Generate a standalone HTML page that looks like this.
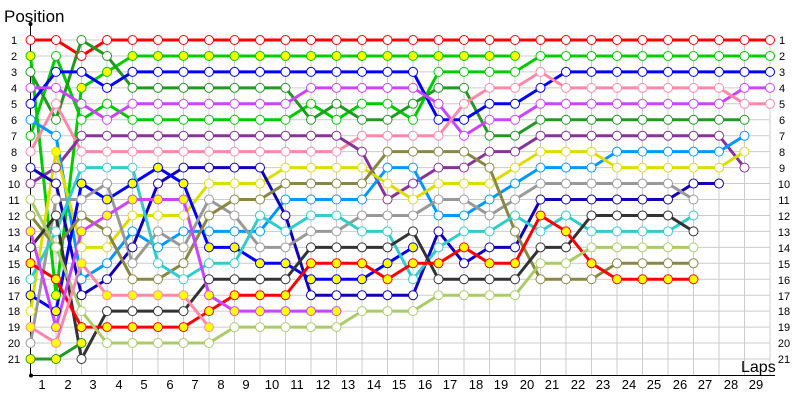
<!DOCTYPE html>
<html><head><meta charset="utf-8"><style>
html,body{margin:0;padding:0;background:#fff;}
svg{display:block;font-family:"Liberation Sans",sans-serif;}
</style></head><body>
<svg id="c" width="800" height="400" viewBox="0 0 800 400">
<g id="grid" stroke="#cccccc" stroke-width="1"></g>
<line x1="30.5" y1="22" x2="30.5" y2="375" stroke="#000" stroke-width="1"/>
<circle cx="30.5" cy="24" r="2" fill="#000"/>
<line x1="30" y1="375.5" x2="775" y2="375.5" stroke="#000" stroke-width="1"/>
<circle cx="31" cy="375.5" r="2" fill="#000"/>
<text x="4" y="22" font-size="17" fill="#000">Position</text>
<text x="741" y="372" font-size="16" fill="#000">Laps</text>
<g font-size="11" fill="#000" text-anchor="middle">
<text x="14" y="44">1</text><text x="14" y="60">2</text><text x="14" y="76">3</text><text x="14" y="92">4</text><text x="14" y="108">5</text><text x="14" y="124">6</text><text x="14" y="140">7</text><text x="14" y="156">8</text><text x="14" y="172">9</text><text x="14" y="188">10</text><text x="14" y="204">11</text><text x="14" y="220">12</text><text x="14" y="236">13</text><text x="14" y="252">14</text><text x="14" y="268">15</text><text x="14" y="284">16</text><text x="14" y="300">17</text><text x="14" y="315">18</text><text x="14" y="331">19</text><text x="14" y="347">20</text><text x="14" y="363">21</text>
</g>
<g font-size="11" fill="#000" text-anchor="middle">
<text x="782" y="44">1</text><text x="782" y="60">2</text><text x="782" y="76">3</text><text x="782" y="92">4</text><text x="782" y="108">5</text><text x="782" y="124">6</text><text x="782" y="140">7</text><text x="782" y="156">8</text><text x="782" y="172">9</text><text x="784" y="188">10</text><text x="784" y="204">11</text><text x="784" y="220">12</text><text x="784" y="236">13</text><text x="784" y="252">14</text><text x="784" y="268">15</text><text x="784" y="284">16</text><text x="784" y="300">17</text><text x="784" y="315">18</text><text x="784" y="331">19</text><text x="784" y="347">20</text><text x="784" y="363">21</text>
</g>
<g font-size="13" fill="#000" text-anchor="middle">
<text x="42" y="389">1</text><text x="68" y="389">2</text><text x="93" y="389">3</text><text x="119" y="389">4</text><text x="144" y="389">5</text><text x="170" y="389">6</text><text x="195" y="389">7</text><text x="221" y="389">8</text><text x="246" y="389">9</text><text x="272" y="389">10</text><text x="297" y="389">11</text><text x="323" y="389">12</text><text x="348" y="389">13</text><text x="374" y="389">14</text><text x="399" y="389">15</text><text x="425" y="389">16</text><text x="450" y="389">17</text><text x="476" y="389">18</text><text x="501" y="389">19</text><text x="527" y="389">20</text><text x="552" y="389">21</text><text x="578" y="389">22</text><text x="603" y="389">23</text><text x="629" y="389">24</text><text x="654" y="389">25</text><text x="680" y="389">26</text><text x="705" y="389">27</text><text x="731" y="389">28</text><text x="756" y="389">29</text>
</g>
<g id="series"></g>
</svg>
<script>
var NS="http://www.w3.org/2000/svg";
function X(k){return 30.5+25.5*k;}
function Y(p){return 40+(p-1)*15.95;}
var g=document.getElementById('grid');
for(var k=0;k<=29;k++){var l=document.createElementNS(NS,'line');l.setAttribute('x1',X(k));l.setAttribute('x2',X(k));l.setAttribute('y1',Y(1)-2);l.setAttribute('y2',375);g.appendChild(l);}
for(var p=1;p<=21;p++){var l=document.createElementNS(NS,'line');l.setAttribute('x1',30);l.setAttribute('x2',770);l.setAttribute('y1',Y(p));l.setAttribute('y2',Y(p));g.appendChild(l);}
function rep(v,n){var a=[];for(var i=0;i<n;i++)a.push(v);return a;}
var S=[
["#ff0000",[1,1,2,1].concat(rep(1,26)),0],
["#00cc00",[2,17,4,3].concat(rep(2,16)),1],
["#00cc00",[7,2,6,5,6,6,6,6,6,6,6,5,6,5,5,6,3,3,3,3].concat(rep(2,10)),0],
["#229922",[3,6,1,2,4,4,4,4,4,4,4,6,5,6,6,5,4,4,7,7].concat(rep(6,9)),0],
["#0000ff",[5,3,3,4].concat(rep(3,12)).concat([6,6,5,5,4]).concat(rep(3,9)),0],
["#cc44ff",[4,4,5,6].concat(rep(5,7)).concat([4,4,4,4,4,5,7,6,6]).concat(rep(5,8)).concat([4,4]),0],
["#ff88aa",[8,5].concat(rep(8,11)).concat([7,7,7,7,5,4,4,3]).concat(rep(4,7)).concat([5,5]),0],
["#883399",[10,9].concat(rep(7,11)).concat([8,11,10,9,9,8,8]).concat(rep(7,8)).concat([9]),0],
["#0099ff",[6,7,16,15,13,14,13,13,13,13,11,11,11,11,9,9,12,12,11,10,9,9,9,8,8,8,8,8,7],0],
["#dddd00",[18,8,14,14,12,12,12,10,10,10,9,9,9,9,10,11,10,10,10,9,8,8,8,9,9,9,9,9,8],0],
["#1100bb",[9,10,17,16,14,10,9,9,9,9,12,17,17,17,17,17,13,15,14,14,11,11,11,11,11,11,10,10],0],
["#0000ff",[17,18,10,11,10,9,10,14,14,15,15,16,16,16,15,14],1],
["#999999",[20,11,11,10,15,13,14,11,12,14,14,13,13,12,12,12,11,11,12,11,10,10,10,10,10,10,11],0],
["#888844",[12,14,12,13,16,16,15,12,11,11,10,10,10,10,8,8,8,8,9,13,16,16,16,15,15,15,15],0],
["#33cccc",[16,13,9,9,9,15,16,15,15,12,13,12,12,13,13,16,14,13,13,12,13,12,13,13,13,13,12],0],
["#333333",[14,12,21,18,18,18,18,16,16,16,16,14,14,14,14,13,16,16,16,16,14,14,12,12,12,12,13],0],
["#ff0000",[15,16,19,19,19,19,19,18,17,17,17,15,15,15,16,15,15,14,15,15,12,13,15,16,16,16,16],1],
["#aacc66",[11,14,18,20,20,20,20,20,19,19,19,19,19,18,18,18,17,17,17,17,15,15,14,14,14,14,14],0],
["#cc44ff",[13,19,13,12,11,11,11,17,18,18,18,18,18],1],
["#ff88aa",[19,20,15,17,17,17,17,19],1],
["#229922",[21,21,20],1]
];
var sg=document.getElementById('series');
S.forEach(function(s){
  var pts=s[1].map(function(p,k){return X(k)+','+Y(p);}).join(' ');
  var pl=document.createElementNS(NS,'polyline');
  pl.setAttribute('points',pts);pl.setAttribute('fill','none');pl.setAttribute('stroke',s[0]);pl.setAttribute('stroke-width','3');pl.setAttribute('stroke-linejoin','round');
  sg.appendChild(pl);
});
S.forEach(function(s){
  s[1].forEach(function(p,k){
    var c=document.createElementNS(NS,'circle');
    c.setAttribute('cx',X(k));c.setAttribute('cy',Y(p));c.setAttribute('r','4.5');
    var fill=s[2]?'#ffff00':'#ffffff';
    if(s[0]=='#dddd00'&&k==1)fill='#ffff00';
    c.setAttribute('fill',fill);c.setAttribute('stroke',s[0]);c.setAttribute('stroke-width','1');
    sg.appendChild(c);
  });
});
</script>
</body></html>
